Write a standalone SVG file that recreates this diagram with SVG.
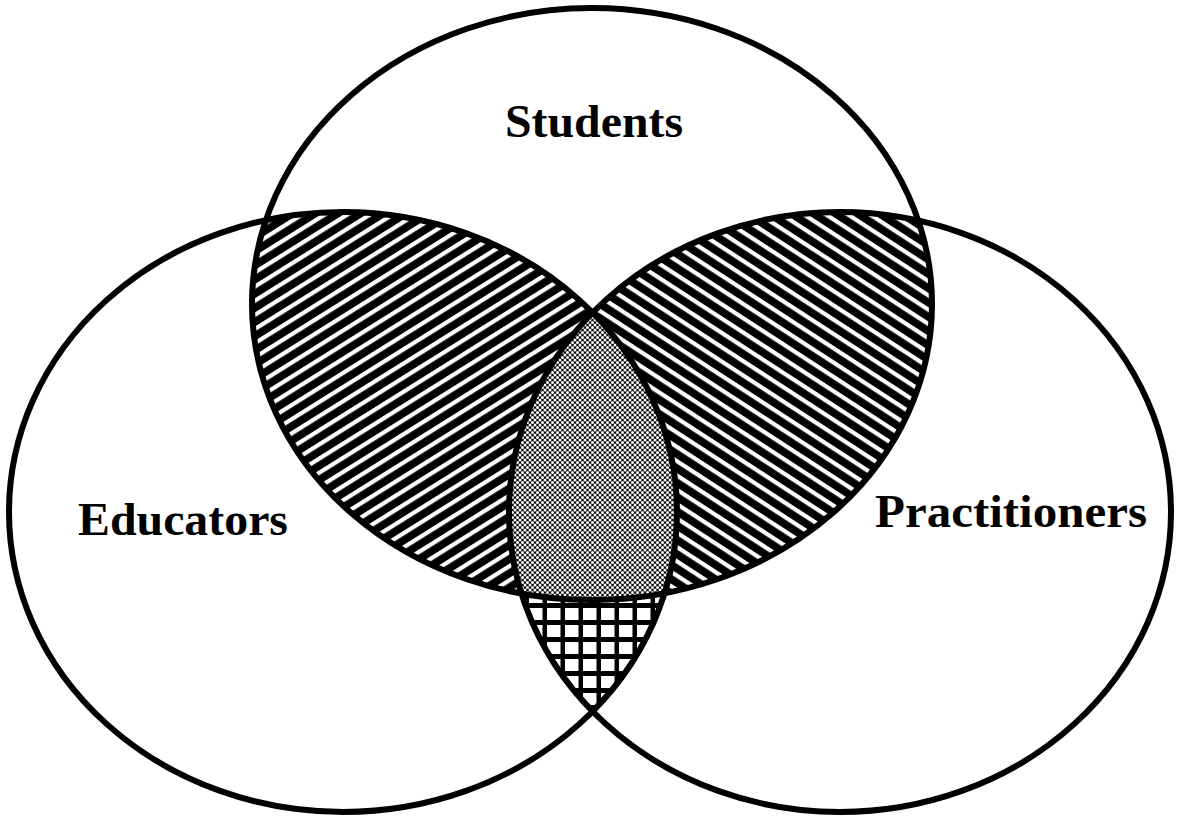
<svg xmlns="http://www.w3.org/2000/svg" width="1177" height="816" viewBox="0 0 1177 816">
  <style>
    .outline { fill: none; stroke: #000; stroke-width: 6; }
    .label { font-family: "Liberation Serif", "Times New Roman", serif; font-weight: bold; font-size: 47px; fill: #000; }
  </style>
  <defs>
    <clipPath id="clipT"><ellipse cx="592" cy="304" rx="340" ry="296"/></clipPath>
    <clipPath id="clipL"><ellipse cx="343" cy="512" rx="334" ry="300"/></clipPath>
    <clipPath id="clipR"><ellipse cx="840" cy="512" rx="331" ry="300"/></clipPath>
    <pattern id="hatchL" patternUnits="userSpaceOnUse" width="40" height="12" patternTransform="rotate(-32)">
      <rect width="40" height="12" fill="#000"/>
      <rect y="4" width="40" height="4.2" fill="#fff"/>
    </pattern>
    <pattern id="hatchR" patternUnits="userSpaceOnUse" width="40" height="12" patternTransform="rotate(33)">
      <rect width="40" height="12" fill="#000"/>
      <rect y="4" width="40" height="4.2" fill="#fff"/>
    </pattern>
    <pattern id="stipple" patternUnits="userSpaceOnUse" width="5" height="5">
      <rect width="5" height="5" fill="#000"/>
      <circle cx="0" cy="0" r="1.5" fill="#fff"/>
      <circle cx="5" cy="0" r="1.5" fill="#fff"/>
      <circle cx="0" cy="5" r="1.5" fill="#fff"/>
      <circle cx="5" cy="5" r="1.5" fill="#fff"/>
      <circle cx="2.5" cy="2.5" r="1.5" fill="#fff"/>
    </pattern>
    <pattern id="grid" patternUnits="userSpaceOnUse" x="547" y="625" width="18" height="17">
      <rect width="18" height="17" fill="#000"/>
      <rect x="0" y="0" width="13.5" height="12" fill="#fff"/>
    </pattern>
  </defs>
  <rect width="1177" height="816" fill="#fff"/>

  <g id="regions">
    <g id="students-educators" clip-path="url(#clipT)">
      <ellipse cx="343" cy="512" rx="334" ry="300" fill="url(#hatchL)"/>
    </g>
    <g id="students-practitioners" clip-path="url(#clipT)">
      <ellipse cx="840" cy="512" rx="331" ry="300" fill="url(#hatchR)"/>
    </g>
    <g id="educators-practitioners" clip-path="url(#clipR)">
      <ellipse cx="343" cy="512" rx="334" ry="300" fill="url(#grid)"/>
    </g>
    <g id="all-three" clip-path="url(#clipT)">
      <g clip-path="url(#clipR)">
        <ellipse cx="343" cy="512" rx="334" ry="300" fill="url(#stipple)"/>
      </g>
    </g>
  </g>

  <g id="students">
    <ellipse class="outline" cx="592" cy="304" rx="340" ry="296"/>
    <text class="label" x="505" y="137" textLength="178" lengthAdjust="spacingAndGlyphs">Students</text>
  </g>
  <g id="educators">
    <ellipse class="outline" cx="343" cy="512" rx="334" ry="300"/>
    <text class="label" x="78" y="535" textLength="210" lengthAdjust="spacingAndGlyphs">Educators</text>
  </g>
  <g id="practitioners">
    <ellipse class="outline" cx="840" cy="512" rx="331" ry="300"/>
    <text class="label" x="875" y="527" textLength="272" lengthAdjust="spacingAndGlyphs">Practitioners</text>
  </g>
  <g id="connectors"></g>
</svg>
